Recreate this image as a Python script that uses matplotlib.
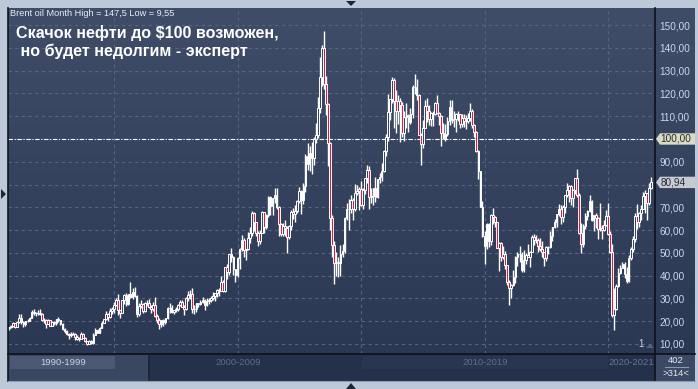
import numpy as np
import pandas as pd
import matplotlib
matplotlib.use("Agg")
import matplotlib.pyplot as plt
from matplotlib.patches import Rectangle, Polygon
from matplotlib.lines import Line2D
from matplotlib.transforms import Affine2D, blended_transform_factory

plt.rcParams["font.family"] = ["Liberation Sans", "DejaVu Sans"]

# ---------------------------------------------------------
# Data: Brent monthly bars, Oct 1995 .. Oct 2021 (open = previous close)
# ---------------------------------------------------------
start_month = "1995-10"
first_open = 17.0

close = [
    17.3, 18.0, 19.2,                                                        # 1995 Oct-Dec
    17.6, 19.5, 21.2, 19.5, 18.9, 19.9, 20.2, 21.6, 24.1, 23.8, 23.8, 23.7,  # 1996
    23.3, 20.4, 20.7, 18.9, 20.4, 17.9, 19.6, 19.1, 20.8, 20.6, 18.6, 16.4,  # 1997
    15.6, 14.2, 14.1, 14.3, 14.5, 13.2, 12.1, 12.2, 14.3, 12.7, 11.1, 10.1,  # 1998
    11.1, 10.3, 14.1, 16.2, 15.0, 16.9, 19.4, 20.9, 23.3, 21.8, 24.6, 25.5,  # 1999
    27.1, 29.5, 24.9, 23.5, 29.3, 31.6, 27.4, 31.9, 30.8, 32.6, 31.0, 23.0,  # 2000
    26.8, 27.6, 24.3, 28.2, 28.1, 26.2, 25.2, 27.2, 22.5, 20.5, 18.9, 20.4,  # 2001
    19.5, 21.4, 25.9, 25.6, 24.0, 24.9, 25.4, 27.2, 28.4, 26.4, 25.2, 30.4,  # 2002
    31.4, 31.9, 25.4, 25.4, 28.1, 27.6, 28.6, 29.4, 27.3, 28.8, 29.1, 30.2,  # 2003
    30.9, 32.3, 33.8, 33.4, 37.4, 33.3, 43.8, 41.6, 49.6, 48.2, 42.7, 40.2,  # 2004
    47.8, 51.7, 55.5, 51.2, 51.6, 56.5, 58.8, 67.6, 63.5, 58.7, 55.1, 58.9,  # 2005
    67.9, 61.2, 66.5, 74.4, 70.7, 73.9, 75.4, 70.3, 62.5, 58.2, 62.0, 61.1,  # 2006
    57.0, 61.8, 68.1, 67.2, 68.5, 72.7, 77.1, 73.0, 79.2, 92.4, 89.2, 93.9,  # 2007
    91.8, 100.1, 101.6, 113.5, 127.4, 139.8, 124.1, 115.5, 98.2, 65.4, 53.5, 45.6,  # 2008
    46.0, 45.4, 49.3, 50.6, 65.1, 69.3, 69.4, 73.1, 69.1, 76.5, 77.3, 77.9,  # 2009
    71.2, 77.6, 82.7, 86.2, 74.5, 75.0, 78.4, 74.7, 82.3, 83.2, 85.9, 94.8,  # 2010
    101.0, 111.8, 117.4, 125.9, 116.7, 112.5, 116.7, 114.9, 102.8, 109.6, 110.5, 107.4,  # 2011
    110.9, 122.7, 122.9, 119.5, 101.9, 97.8, 104.9, 114.6, 112.4, 108.7, 111.2, 111.1,  # 2012
    115.6, 111.4, 110.0, 102.5, 100.4, 102.2, 107.7, 114.0, 108.4, 108.8, 110.8, 110.8,  # 2013
    106.4, 109.1, 107.8, 108.1, 109.4, 112.4, 106.0, 103.2, 94.7, 85.9, 70.2, 57.3,  # 2014
    53.0, 62.6, 55.1, 66.8, 65.6, 63.6, 52.2, 54.2, 48.4, 49.6, 44.6, 37.3,  # 2015
    34.7, 36.0, 39.6, 48.1, 49.7, 49.7, 42.5, 47.0, 49.1, 48.3, 50.5, 56.8,  # 2016
    55.7, 55.6, 52.8, 51.7, 50.3, 47.9, 52.7, 52.4, 57.5, 61.4, 63.6, 66.9,  # 2017
    69.1, 65.8, 70.3, 75.2, 77.6, 79.4, 74.3, 77.4, 82.7, 75.5, 58.7, 53.8,  # 2018
    61.9, 66.3, 68.4, 72.8, 64.5, 66.6, 65.2, 60.4, 60.8, 60.2, 62.4, 66.0,  # 2019
    58.2, 50.5, 22.7, 25.3, 35.3, 41.2, 43.3, 45.3, 40.9, 37.5, 47.6, 51.8,  # 2020
    55.9, 66.1, 63.5, 67.3, 69.3, 75.1, 76.3, 72.0, 78.5, 80.94,             # 2021 Jan-Oct
]

high = [
    17.6, 18.3, 19.6,
    19.3, 19.8, 23.0, 23.0, 20.0, 20.0, 21.1, 21.8, 24.8, 25.2, 24.2, 25.1,
    25.2, 23.4, 21.5, 20.9, 20.9, 20.5, 20.0, 20.1, 21.0, 21.9, 20.7, 19.1,
    16.9, 16.0, 14.8, 15.4, 15.3, 14.6, 13.9, 13.1, 15.3, 14.7, 13.2, 11.3,
    11.8, 11.6, 14.9, 16.9, 16.6, 17.4, 19.9, 21.0, 24.6, 23.8, 25.8, 26.2,
    28.3, 30.1, 31.9, 25.0, 29.4, 32.1, 32.4, 32.1, 37.4, 34.5, 35.0, 31.7,
    27.8, 29.2, 28.0, 28.5, 29.5, 29.7, 26.9, 28.5, 30.5, 23.3, 21.6, 20.6,
    21.1, 21.6, 26.2, 27.8, 26.9, 25.0, 26.2, 27.4, 29.2, 29.4, 26.9, 30.5,
    33.3, 33.7, 34.5, 27.0, 28.2, 28.2, 29.3, 30.6, 29.6, 30.2, 30.2, 31.0,
    32.6, 32.4, 34.2, 34.4, 39.8, 37.9, 44.0, 45.2, 49.7, 52.0, 48.5, 43.0,
    48.4, 52.0, 57.7, 56.5, 51.7, 59.3, 61.3, 68.4, 67.8, 63.6, 59.5, 60.0,
    68.5, 68.0, 66.9, 74.9, 74.9, 74.0, 78.6, 78.4, 70.6, 63.0, 62.9, 64.6,
    61.6, 62.3, 68.7, 69.6, 70.9, 73.0, 78.8, 77.6, 80.5, 93.6, 98.1, 96.8,
    98.5, 100.9, 107.0, 118.5, 135.9, 141.3, 147.5, 127.5, 116.0, 98.5, 66.6, 55.4,
    50.5, 48.2, 53.4, 53.8, 65.7, 72.0, 73.5, 75.3, 74.2, 80.3, 80.0, 78.8,
    81.6, 78.5, 82.8, 88.7, 88.0, 78.5, 78.6, 83.1, 82.4, 84.9, 89.6, 95.0,
    102.4, 119.8, 117.5, 127.0, 126.6, 121.3, 119.2, 118.0, 116.1, 112.5, 115.9, 111.1,
    113.5, 123.8, 128.4, 126.3, 119.9, 102.6, 108.5, 117.0, 117.9, 115.0, 112.0, 112.1,
    116.3, 119.2, 112.0, 110.5, 106.8, 106.6, 109.6, 117.3, 117.3, 112.1, 111.5, 112.4,
    110.9, 110.9, 111.1, 110.6, 111.2, 115.7, 113.0, 106.6, 103.3, 95.0, 86.1, 72.8,
    59.5, 63.0, 63.2, 67.1, 69.6, 66.0, 63.7, 54.6, 54.6, 53.1, 50.9, 44.8,
    37.9, 36.4, 42.5, 48.5, 50.5, 52.9, 50.2, 51.2, 49.9, 53.7, 50.6, 57.9,
    58.4, 57.8, 56.4, 56.7, 55.0, 50.5, 53.0, 53.1, 59.5, 61.5, 64.7, 67.1,
    71.3, 70.9, 71.2, 75.5, 80.5, 80.0, 79.9, 78.2, 82.9, 86.7, 76.1, 63.1,
    62.5, 67.4, 68.7, 75.6, 73.2, 66.8, 67.5, 65.6, 71.9, 62.3, 64.3, 68.9,
    71.8, 59.6, 53.9, 34.7, 36.3, 43.4, 44.5, 46.0, 46.0, 43.9, 49.0, 52.5,
    57.4, 67.7, 71.4, 67.8, 70.9, 76.6, 77.8, 76.5, 80.8, 83.5,
]

low = [
    16.3, 16.9, 17.6,
    17.1, 17.4, 19.2, 18.8, 17.6, 17.8, 19.5, 19.9, 21.5, 22.6, 22.2, 22.6,
    22.6, 19.9, 19.4, 17.1, 18.8, 17.8, 17.7, 18.5, 18.4, 19.8, 18.5, 16.2,
    14.9, 13.8, 12.1, 13.2, 13.8, 11.8, 11.9, 11.2, 12.2, 12.5, 10.9, 9.55,
    9.9, 9.9, 10.2, 13.9, 14.6, 14.9, 16.8, 19.2, 20.4, 20.3, 21.5, 23.1,
    23.5, 26.6, 22.8, 21.5, 23.4, 27.5, 26.5, 27.0, 30.2, 29.6, 30.5, 22.0,
    22.3, 25.8, 23.4, 24.1, 26.8, 25.6, 23.5, 24.4, 22.0, 19.3, 16.6, 17.5,
    17.9, 18.9, 21.0, 23.8, 23.5, 23.0, 24.0, 24.4, 26.8, 26.1, 22.7, 24.9,
    28.9, 29.7, 23.4, 23.2, 24.0, 26.4, 27.2, 27.9, 24.9, 26.8, 27.5, 28.5,
    29.5, 28.9, 30.6, 31.0, 33.2, 32.9, 33.0, 38.7, 40.2, 45.9, 40.2, 37.0,
    39.4, 42.9, 50.7, 48.0, 47.0, 51.3, 54.5, 57.4, 59.4, 57.4, 53.1, 54.1,
    58.7, 58.8, 60.4, 65.8, 66.6, 66.8, 72.1, 69.4, 57.5, 57.3, 57.6, 57.6,
    49.9, 55.9, 60.0, 65.0, 63.6, 67.4, 72.0, 67.0, 71.6, 76.8, 86.5, 86.0,
    84.7, 88.7, 98.1, 100.3, 111.4, 123.3, 121.9, 110.6, 88.2, 60.1, 48.4, 36.2,
    40.0, 39.4, 39.9, 48.4, 50.0, 64.5, 59.9, 67.4, 64.5, 68.5, 75.6, 68.6,
    70.6, 69.2, 75.8, 80.5, 69.3, 71.7, 71.1, 72.3, 74.0, 80.8, 81.7, 85.5,
    92.5, 99.1, 108.2, 115.6, 105.0, 102.5, 106.5, 98.7, 101.0, 99.3, 104.8, 102.9,
    106.5, 109.3, 119.9, 117.1, 101.7, 88.5, 96.1, 104.8, 107.4, 106.1, 105.8, 105.9,
    110.6, 110.9, 106.2, 96.8, 100.2, 99.2, 101.5, 106.2, 106.9, 105.2, 102.9, 107.8,
    104.9, 105.4, 105.3, 104.4, 106.8, 107.7, 104.6, 100.8, 94.5, 82.6, 70.1, 56.9,
    45.2, 51.7, 52.5, 53.5, 62.6, 61.3, 52.0, 42.2, 46.5, 47.1, 42.8, 36.0,
    27.1, 30.0, 35.6, 36.8, 44.3, 46.0, 41.5, 41.5, 45.0, 48.1, 43.9, 50.3,
    53.6, 54.4, 50.3, 51.0, 48.2, 44.4, 46.6, 49.7, 52.1, 55.1, 60.8, 61.2,
    66.4, 62.6, 63.6, 67.4, 74.6, 72.4, 71.2, 70.3, 75.9, 74.6, 58.4, 50.0,
    52.6, 60.3, 64.6, 67.9, 64.2, 59.5, 61.1, 55.9, 59.8, 56.2, 59.8, 61.6,
    57.7, 49.8, 21.7, 15.98, 24.9, 34.8, 40.9, 43.2, 38.8, 36.6, 37.1, 47.0,
    50.4, 54.9, 60.3, 61.5, 64.6, 69.1, 67.4, 64.6, 70.9, 78.0,
]

price_ticks = list(range(10, 151, 10))
ref_level = 100.0
header = "Brent oil Month High = 147,5 Low = 9,55"
title_lines = ["Скачок нефти до $100 возможен,", " но будет недолгим - эксперт"]
periods = ["1990-1999", "2000-2009", "2010-2019", "2020-2021"]
grid_years = [2000, 2005, 2010, 2015, 2020]
bar_count_total = "402"
bar_count_visible = ">314<"

# ---------------------------------------------------------
# Prepare bars
# ---------------------------------------------------------
c = np.array(close)
h = np.array(high)
l = np.array(low)
o = np.r_[first_open, c[:-1]]
h = np.maximum(h, np.maximum(o, c))
l = np.minimum(l, np.minimum(o, c))
n = len(c)
idx = np.arange(n)
months = pd.period_range(start_month, periods=n, freq="M")
grid_pos = [int(np.where((months.year == y) & (months.month == 1))[0][0]) for y in grid_years]
up = c >= o
last_price = c[-1]

# ---------------------------------------------------------
# Figure / layout in pixels
# ---------------------------------------------------------
W, H = 698, 389
fig = plt.figure(figsize=(W / 100, H / 100), dpi=100, facecolor="#bdc9d9")
pix = Affine2D().scale(1 / W, -1 / H).translate(0, 1) + fig.transFigure


def box(x0, y0, x1, y1):
    return [x0 / W, 1 - y1 / H, (x1 - x0) / W, (y1 - y0) / H]


def rect(x0, y0, x1, y1, color, z=1):
    fig.add_artist(Rectangle((x0, y0), x1 - x0, y1 - y0, transform=pix,
                             facecolor=color, edgecolor="none", zorder=z))


def line(xs, ys, color, lw=1.0, z=2):
    fig.add_artist(Line2D(xs, ys, transform=pix, color=color, lw=lw, zorder=z))


def ftext(x, y, s, color, size=6.8, ha="center", **kw):
    fig.text(x, y, s, transform=pix, color=color, fontsize=size, ha=ha,
             va="center", zorder=5, **kw)


# background gradient (plot + price panel)
bg = fig.add_axes(box(8, 8, 695, 354))
top_col = np.array([0x40, 0x4d, 0x69]) / 255
bot_col = np.array([0x2b, 0x38, 0x53]) / 255
t = np.linspace(0, 1, 256)[:, None, None]
grad = top_col[None, None, :] * (1 - t) + bot_col[None, None, :] * t
bg.imshow(grad, aspect="auto", extent=[0, 1, 0, 1])
bg.set_axis_off()

ax = fig.add_axes(box(8, 8, 655, 354))
ax.set_facecolor("none")
for s in ax.spines.values():
    s.set_visible(False)
ax.set_xlim(-0.5, 313.8)
ax.set_ylim(5.6, 157.5)

# tick labels hidden under the price tags are left blank
hidden = {round(ref_level), int(round(last_price / 10) * 10)}
ax.set_xticks(grid_pos)
ax.set_xticklabels([])
ax.yaxis.tick_right()
ax.set_yticks(price_ticks)
ax.set_yticklabels(["" if v in hidden else f"{v:.2f}".replace(".", ",")
                    for v in price_ticks])
ax.tick_params(axis="x", length=0)
ax.tick_params(axis="y", length=0, pad=3.2, labelsize=7.2, labelcolor="#c9d7ee")
ax.grid(True, color="#56647f", ls=(0, (3, 3)), lw=0.8)
ax.set_axisbelow(True)

ax.axhline(ref_level, color="white", lw=0.8, ls=(0, (4, 1.5, 1, 1.5)), zorder=2)

# candles
ax.vlines(idx, l, h, color="white", lw=1.0, zorder=3)
ax.bar(idx[up], (c - o)[up], bottom=o[up], width=0.8, color="#3a4763",
       edgecolor="white", lw=0.7, zorder=4)
ax.bar(idx[~up], (o - c)[~up], bottom=c[~up], width=0.8, color="#e5173f",
       edgecolor="white", lw=0.7, zorder=4)

# price tags
tag_tr = blended_transform_factory(pix, ax.transData)
for val, fill in [(ref_level, "#d9dbc4"), (last_price, "#c5cad3")]:
    dy = 2.5
    fig.add_artist(Polygon([(656, val), (660, val + dy), (695, val + dy),
                            (695, val - dy), (660, val - dy)], closed=True,
                           transform=tag_tr, facecolor=fill, edgecolor="none", zorder=2))
    fig.text(660.5, val, f"{val:.2f}".replace(".", ","), transform=tag_tr,
             color="#2a2a2a", fontsize=7.2, ha="left", va="center", zorder=5)

# header and title
ftext(10, 14, header, "#e8eef8", size=6.6, ha="left")
ftext(16, 33, title_lines[0], "white", size=11.6, ha="left", fontweight="bold")
ftext(16, 51, title_lines[1], "white", size=11.6, ha="left", fontweight="bold")

# small marker near bottom right
ftext(641, 344, "1", "#c8d4e8", size=7)
fig.add_artist(Polygon([(646, 348), (654, 348), (650, 344)], closed=True, transform=pix,
                       facecolor="#55627c", edgecolor="none", zorder=2))

# bottom navigator bar
rect(8, 354, 655, 381, "#25314a")
rect(8, 355, 148, 381, "#3a4761")
rect(10, 356, 115, 369, "#4a5874")
rect(148, 355, 150, 381, "#1c273b")
rect(362, 356, 608, 369, "#2a3651")
ftext(63, 362.5, periods[0], "#c9d3e3")
ftext(238, 362.5, periods[1], "#5e6c88")
ftext(485, 362.5, periods[2], "#5e6c88")
ftext(631, 362.5, periods[3], "#66748f")

rect(655, 354, 695, 381, "#3c4964")
ftext(676, 360.5, bar_count_total, "#e3e9f3")
line([665, 688], [367.5, 367.5], "#8c98ac", lw=0.8)
ftext(676, 374, bar_count_visible, "#e3e9f3")

# borders
line([7.5, 7.5], [8, 381], "#10151f", lw=1.2)
line([655, 655], [8, 381], "#0d1119", lw=1.2)
line([8, 695], [354.5, 354.5], "#0d1119", lw=1.2)
line([8, 695], [381, 381], "#8f9bb0", lw=0.8)

# frame arrows
for pts in ([(346, 1), (356, 1), (351, 6)],
            [(346, 389), (356, 389), (351, 383)],
            [(1, 189), (1, 199), (6, 194)]):
    fig.add_artist(Polygon(pts, closed=True, transform=pix, facecolor="#1c2638",
                           edgecolor="none", zorder=2))

fig.savefig("out.png", dpi=100, facecolor=fig.get_facecolor())
